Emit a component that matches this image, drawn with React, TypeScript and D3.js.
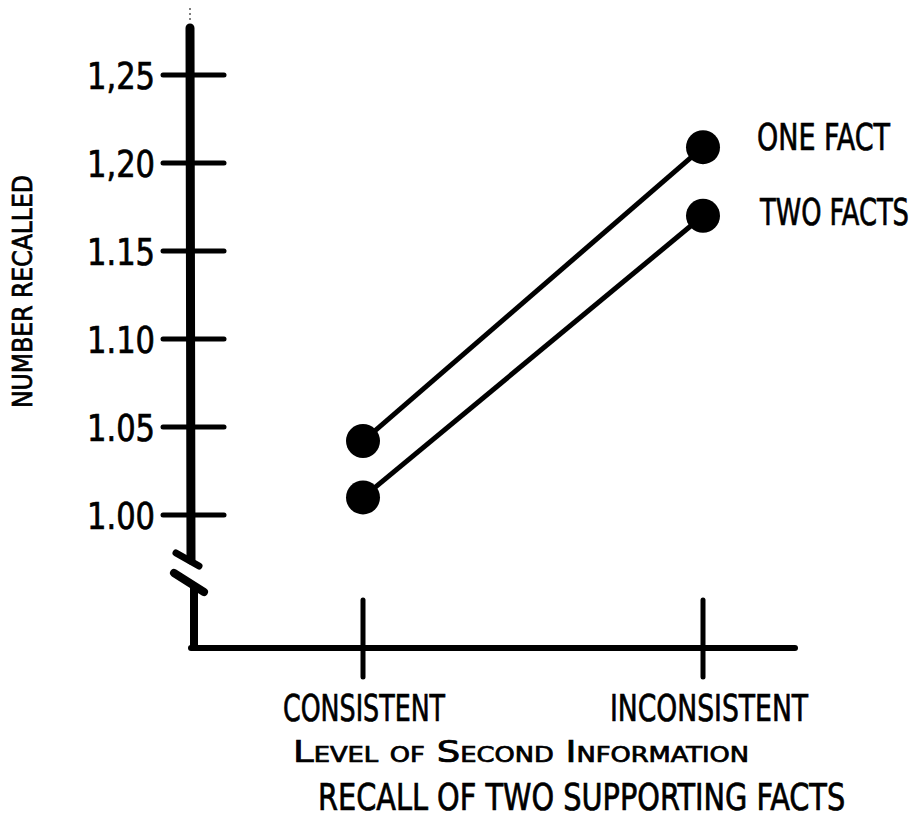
import { useRef, useLayoutEffect, useState } from 'react'
import * as d3 from 'd3'

const categories = ['CONSISTENT', 'INCONSISTENT']
const oneFact = [1.042, 1.209]
const twoFacts = [1.01, 1.17]
const yTicks = [1.0, 1.05, 1.1, 1.15, 1.2, 1.25]
const yTickLabels = ['1.00', '1.05', '1.10', '1.15', '1,20', '1,25']
const seriesNames = ['ONE FACT', 'TWO FACTS']

const W = 915
const H = 818
const FONT = '"DejaVu Sans Condensed", "DejaVu Sans", sans-serif'

// text squeezed horizontally to a given width, like the narrow typewriter face
function Label({
  x,
  y,
  width,
  size,
  anchor = 'start',
  rotate = 0,
  smallCaps = false,
  children,
}: {
  x: number
  y: number
  width: number
  size: number
  anchor?: 'start' | 'end'
  rotate?: number
  smallCaps?: boolean
  children: string
}) {
  const ref = useRef<SVGTextElement>(null)
  const [sx, setSx] = useState(0.7)
  useLayoutEffect(() => {
    if (!ref.current) return
    const w = ref.current.getComputedTextLength()
    if (w > 0) setSx(width / w)
  }, [width, children])
  return (
    <text
      ref={ref}
      transform={`translate(${x},${y}) rotate(${rotate}) scale(${sx},1)`}
      textAnchor={anchor}
      fontSize={size}
      style={smallCaps ? { fontVariant: 'small-caps' } : undefined}
      fill="#000"
      stroke="#000"
      strokeWidth={0.7}
    >
      {children}
    </text>
  )
}

export default function App() {
  const x = d3.scalePoint<string>().domain(categories).range([363, 703])
  const y = d3.scaleLinear().domain([1.0, 1.25]).range([515, 75])
  const baseY = 648

  const line = d3
    .line<number>()
    .x((_, i) => x(categories[i]) ?? 0)
    .y((d) => y(d))

  const series = [oneFact, twoFacts]

  return (
    <svg
      width={W}
      height={H}
      style={{ position: 'absolute', left: 0, top: 0, background: '#fff' }}
      fontFamily={FONT}
    >
      {/* y axis with a break near the bottom */}
      <line x1={190} x2={191} y1={28} y2={560} stroke="#000" strokeWidth={9} strokeLinecap="round" />
      <line x1={176} x2={199} y1={553} y2={566} stroke="#000" strokeWidth={7} strokeLinecap="round" />
      <line x1={174} x2={204} y1={573} y2={592} stroke="#000" strokeWidth={8} strokeLinecap="round" />
      <line x1={194} x2={194} y1={588} y2={baseY} stroke="#000" strokeWidth={8} />
      <line x1={191} x2={795} y1={baseY} y2={baseY} stroke="#000" strokeWidth={6} strokeLinecap="round" />
      <line x1={190} x2={190} y1={8} y2={20} stroke="#000" strokeWidth={1} strokeDasharray="2,3" />

      {yTicks.map((t, i) => (
        <g key={t}>
          <line x1={163} x2={224} y1={y(t)} y2={y(t)} stroke="#000" strokeWidth={5} strokeLinecap="round" />
          <Label x={155} y={y(t) + 14} anchor="end" size={37} width={68}>
            {yTickLabels[i]}
          </Label>
        </g>
      ))}

      {categories.map((c) => (
        <line key={c} x1={x(c)} x2={x(c)} y1={600} y2={677} stroke="#000" strokeWidth={5} strokeLinecap="round" />
      ))}

      {series.map((s, k) => (
        <g key={k}>
          <path d={line(s) ?? ''} fill="none" stroke="#000" strokeWidth={5} />
          {s.map((v, i) => (
            <circle key={i} cx={x(categories[i])} cy={y(v)} r={17} fill="#000" />
          ))}
        </g>
      ))}

      {/* series labels */}
      <Label x={757} y={150} size={38} width={133}>
        {seriesNames[0]}
      </Label>
      <Label x={760} y={225} size={38} width={149}>
        {seriesNames[1]}
      </Label>

      {/* category labels */}
      <Label x={283} y={721} size={38} width={162}>
        {categories[0]}
      </Label>
      <Label x={610} y={721} size={38} width={198}>
        {categories[1]}
      </Label>
      <Label x={293} y={762} size={30} width={457} smallCaps>
        Level of Second Information
      </Label>
      <Label x={318} y={810} size={37} width={527}>
        RECALL OF TWO  SUPPORTING FACTS
      </Label>

      {/* y axis title */}
      <Label x={32} y={408} rotate={-90} size={26} width={233}>
        NUMBER RECALLED
      </Label>
    </svg>
  )
}
